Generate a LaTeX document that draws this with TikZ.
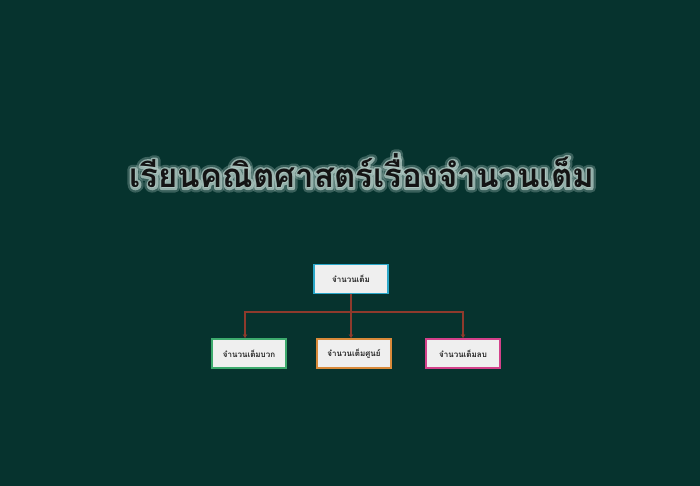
\documentclass[tikz,border=0pt]{standalone}
\usepackage{fontspec}
\usetikzlibrary{arrows.meta,calc}
\newfontfamily\thaifont[Script=Thai]{Loma}
\newfontfamily\thaiglowA[Script=Thai,FakeBold=28]{Loma}
\newfontfamily\thaiglowB[Script=Thai,FakeBold=14]{Loma}
\definecolor{bgc}{HTML}{06332E}
\definecolor{glowc}{HTML}{B2CAC4}
\definecolor{boxfill}{HTML}{EFEFEF}
\definecolor{linec}{HTML}{8E3A2C}
\definecolor{bluec}{HTML}{2AA7C9}
\definecolor{greenc}{HTML}{3DAA6D}
\definecolor{orangec}{HTML}{D98A3A}
\definecolor{pinkc}{HTML}{D3418A}
\tikzset{
  tbox/.style={draw=#1, line width=1.6pt, fill=boxfill, minimum width=74pt, minimum height=29pt, inner sep=0pt, font=\thaifont\bfseries\fontsize{8}{9}\selectfont, text=black!85},
  conn/.style={draw=linec, line width=2pt},
  titletext/.style={font=\thaifont\bfseries\fontsize{33}{40}\selectfont},
  glowtext/.style={text=glowc, line join=round, line cap=round}
}
\begin{document}
\begin{tikzpicture}[x=1pt,y=1pt]
\fill[bgc] (0,0) rectangle (700,486);
\useasboundingbox (0,0) rectangle (700,486);
\begin{scope}[line join=round, line cap=round]
\node[glowtext, font=\thaiglowA\bfseries\fontsize{33}{40}\selectfont, opacity=0.3] (glowA) at (362,315) {เรียนคณิตศาสตร์เรื่องจำนวนเต็ม};
\node[glowtext, font=\thaiglowB\bfseries\fontsize{33}{40}\selectfont, opacity=0.75] (glowB) at (362,315) {เรียนคณิตศาสตร์เรื่องจำนวนเต็ม};
\end{scope}
\node[titletext, text=black!92] (title) at (362,315) {เรียนคณิตศาสตร์เรื่องจำนวนเต็ม};
\node[tbox=bluec] (root) at (351,207) {จำนวนเต็ม};
\node[tbox=greenc] (pos) at (249,132.5) {จำนวนเต็มบวก};
\node[tbox=orangec] (zero) at (354,132.5) {จำนวนเต็มศูนย์};
\node[tbox=pinkc] (neg) at (463,132.5) {จำนวนเต็มลบ};
\coordinate (j) at (351,174);
\draw[conn] (root.south) -- (j);
\draw[conn, -{Stealth[length=4pt,width=4.5pt]}] (j) -| ([xshift=-4pt]pos.north);
\draw[conn, -{Stealth[length=4pt,width=4.5pt]}] (j) -- ([xshift=-3pt]zero.north);
\draw[conn, -{Stealth[length=4pt,width=4.5pt]}] (j) -| (neg.north);
\end{tikzpicture}
\end{document}
